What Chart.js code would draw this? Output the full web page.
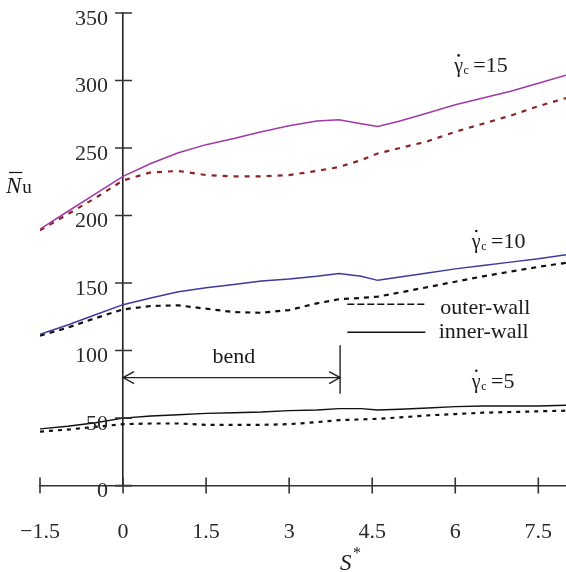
<!DOCTYPE html>
<html>
<head>
<meta charset="utf-8">
<script src="https://cdn.jsdelivr.net/npm/chart.js@4/dist/chart.umd.min.js"></script>
<style>
  html, body { margin: 0; padding: 0; background: #ffffff; }
  canvas { display: block; }
</style>
</head>
<body>
<canvas id="chart" width="566" height="572"></canvas>
<script>
// Position along the duct, S*
const sValues = [-1.5, -1, -0.5, 0, 0.5, 1, 1.5, 2, 2.5, 3, 3.5, 3.9, 4.3, 4.6, 5, 5.5, 6, 6.5, 7, 7.5, 8];

// Mean Nusselt number, shear rate 15
const inner15 = [190, 203, 216, 229, 238.5, 246.5, 252.5, 257, 262, 266.5, 270, 271, 268, 266, 270, 276, 282, 287, 292, 298, 304];
const outer15 = [189, 201, 213, 226, 232, 233, 230, 229, 229, 230, 233, 236, 241, 246, 250, 255, 262, 268, 274, 281, 287];

// Mean Nusselt number, shear rate 10
const inner10 = [112, 119, 126.5, 134, 139, 143.5, 146.5, 149, 151.5, 153, 155, 157, 155, 152, 154.5, 157.5, 160.5, 163, 165.5, 168, 171];
const outer10 = [111, 117, 124, 130.5, 133, 133.5, 131, 128.5, 128, 130, 135, 138, 139, 140, 143, 147, 151, 155, 158.5, 162, 165];

// Mean Nusselt number, shear rate 5
const inner5 = [42, 44, 46.5, 50, 51.5, 52.5, 53.5, 54, 54.5, 55.5, 56, 57, 57, 56, 56.5, 57.5, 58.5, 59, 59, 59, 59.5];
const outer5 = [40, 41.5, 43.5, 45.5, 46, 46, 45, 45, 45, 45.5, 47, 48.5, 49, 49.5, 50.5, 52, 53, 54, 54.5, 55, 55.5];

// Axis ticks
const xTicks = [-1.5, 0, 1.5, 3, 4.5, 6, 7.5];
const xTickLabels = ['\u22121.5', '0', '1.5', '3', '4.5', '6', '7.5'];
const yTicks = [0, 50, 100, 150, 200, 250, 300, 350];

// Annotation texts
const rateLabels = ['15', '10', '5'];
const legendLabels = ['outer-wall', 'inner-wall'];
const bendLabel = 'bend';

const SERIF = '"Liberation Serif", "DejaVu Serif", serif';

function pairs(ys) {
  return sValues.map((s, i) => ({ x: s, y: ys[i] }));
}

function series(ys, color, width, dash) {
  return {
    data: pairs(ys),
    borderColor: color,
    borderWidth: width,
    borderDash: dash || [],
    pointRadius: 0,
    tension: 0,
    fill: false
  };
}

// Tick marks crossing the axis lines, y tick labels and in-plot annotations
const decorations = {
  id: 'decorations',
  afterDraw(chart) {
    const ctx = chart.ctx;
    const xs = chart.scales.x;
    const ys = chart.scales.y;
    const X = v => xs.getPixelForValue(v);
    const Y = v => ys.getPixelForValue(v);
    const x0 = X(0);
    const y0 = Y(0);

    ctx.save();
    ctx.strokeStyle = '#333333';
    ctx.lineWidth = 1.6;
    ctx.beginPath();
    xs.ticks.forEach(t => {
      const px = X(t.value);
      ctx.moveTo(px, y0 - 8);
      ctx.lineTo(px, y0 + 8);
    });
    ys.ticks.forEach(t => {
      const py = Y(t.value);
      ctx.moveTo(x0 - 8, py);
      ctx.lineTo(x0 + 9, py);
    });
    ctx.stroke();

    // y tick labels, left of the axis drawn at S* = 0
    ctx.fillStyle = '#2a2a2a';
    ctx.font = '22px ' + SERIF;
    ctx.textAlign = 'right';
    ctx.textBaseline = 'middle';
    ys.ticks.forEach(t => {
      ctx.fillText(String(t.value), x0 - 15, Y(t.value) + 6);
    });

    // bend extent arrow
    ctx.strokeStyle = '#222222';
    ctx.lineWidth = 1.4;
    const ay = Y(80);
    const ax1 = X(0);
    const ax2 = X(3.92);
    ctx.beginPath();
    ctx.moveTo(ax1, ay);
    ctx.lineTo(ax2, ay);
    ctx.moveTo(ax1 + 11, ay - 6);
    ctx.lineTo(ax1, ay);
    ctx.lineTo(ax1 + 11, ay + 6);
    ctx.moveTo(ax2 - 11, ay - 6);
    ctx.lineTo(ax2, ay);
    ctx.lineTo(ax2 - 11, ay + 6);
    ctx.moveTo(ax2, Y(104));
    ctx.lineTo(ax2, Y(68));
    ctx.stroke();

    ctx.fillStyle = '#1a1a1a';
    ctx.font = '22px ' + SERIF;
    ctx.textAlign = 'center';
    ctx.textBaseline = 'alphabetic';
    ctx.fillText(bendLabel, X(2.0), Y(90.5));

    // legend samples
    ctx.strokeStyle = '#111111';
    ctx.lineWidth = 1.5;
    ctx.setLineDash([7, 3]);
    ctx.beginPath();
    ctx.moveTo(X(4.05), Y(134.3));
    ctx.lineTo(X(5.46), Y(134.3));
    ctx.stroke();
    ctx.setLineDash([]);
    ctx.beginPath();
    ctx.moveTo(X(4.05), Y(113.5));
    ctx.lineTo(X(5.46), Y(113.5));
    ctx.stroke();
    ctx.textAlign = 'left';
    ctx.font = '22px ' + SERIF;
    ctx.fillText(legendLabels[0], X(5.73), Y(127));
    ctx.fillText(legendLabels[1], X(5.70), Y(109));

    // shear-rate labels: gamma with overdot, subscript c, "= value"
    function rateLabel(x, y, value) {
      ctx.textAlign = 'left';
      ctx.font = '20px ' + SERIF;
      ctx.fillText('\u03b3', x, y);
      const gw = ctx.measureText('\u03b3').width;
      ctx.beginPath();
      ctx.arc(x + gw * 0.5, y - 17, 1.3, 0, Math.PI * 2);
      ctx.fill();
      ctx.font = '12px ' + SERIF;
      ctx.fillText('c', x + gw + 0.5, y + 2);
      const cw = ctx.measureText('c').width;
      ctx.font = '22px ' + SERIF;
      ctx.fillText('=' + value, x + gw + cw + 5, y);
    }
    rateLabel(X(5.98), Y(306), rateLabels[0]);
    rateLabel(X(6.3), Y(176), rateLabels[1]);
    rateLabel(X(6.3), Y(72.5), rateLabels[2]);

    // y-axis title: N with overbar, subscript u
    ctx.font = 'italic 23px ' + SERIF;
    ctx.textAlign = 'left';
    ctx.fillText('N', 6, 193);
    const nw = ctx.measureText('N').width;
    ctx.lineWidth = 1.2;
    ctx.beginPath();
    ctx.moveTo(9, 172.5);
    ctx.lineTo(6 + nw + 1, 172.5);
    ctx.stroke();
    ctx.font = '19px ' + SERIF;
    ctx.fillText('u', 6 + nw + 1, 193);

    // x-axis title: S*
    ctx.font = 'italic 23px ' + SERIF;
    ctx.fillText('S', 340, 570);
    ctx.font = '16px ' + SERIF;
    ctx.fillText('*', 353, 558);

    ctx.restore();
  }
};

new Chart(document.getElementById('chart'), {
  type: 'line',
  data: {
    datasets: [
      series(inner15, '#a03aa6', 1.5),
      series(outer15, '#8c2424', 2.2, [5, 6]),
      series(inner10, '#3a3aa0', 1.5),
      series(outer10, '#111111', 2.2, [5, 5]),
      series(inner5, '#111111', 1.4),
      series(outer5, '#111111', 2.2, [4, 5])
    ]
  },
  options: {
    responsive: false,
    animation: false,
    devicePixelRatio: 1,
    layout: { padding: { left: 40, right: 0, top: 13, bottom: 27 } },
    plugins: {
      legend: { display: false },
      tooltip: { enabled: false },
      title: { display: false }
    },
    scales: {
      x: {
        type: 'linear',
        min: -1.5,
        max: 8,
        afterBuildTicks: scale => { scale.ticks = xTicks.map(v => ({ value: v })); },
        grid: { display: false, drawTicks: true, tickLength: 33 },
        border: { display: true, color: '#333333', width: 1.6 },
        ticks: {
          padding: 0,
          color: '#2a2a2a',
          font: { family: SERIF, size: 22 },
          callback: value => {
            const i = xTicks.indexOf(value);
            return i >= 0 ? xTickLabels[i] : '';
          }
        }
      },
      y: {
        type: 'linear',
        position: { x: 0 },
        min: 0,
        max: 350,
        afterBuildTicks: scale => { scale.ticks = yTicks.map(v => ({ value: v })); },
        grid: { display: false, drawTicks: false },
        border: { display: true, color: '#222222', width: 1.6 },
        ticks: { display: false, padding: 0 }
      }
    }
  },
  plugins: [decorations]
});
</script>
</body>
</html>
